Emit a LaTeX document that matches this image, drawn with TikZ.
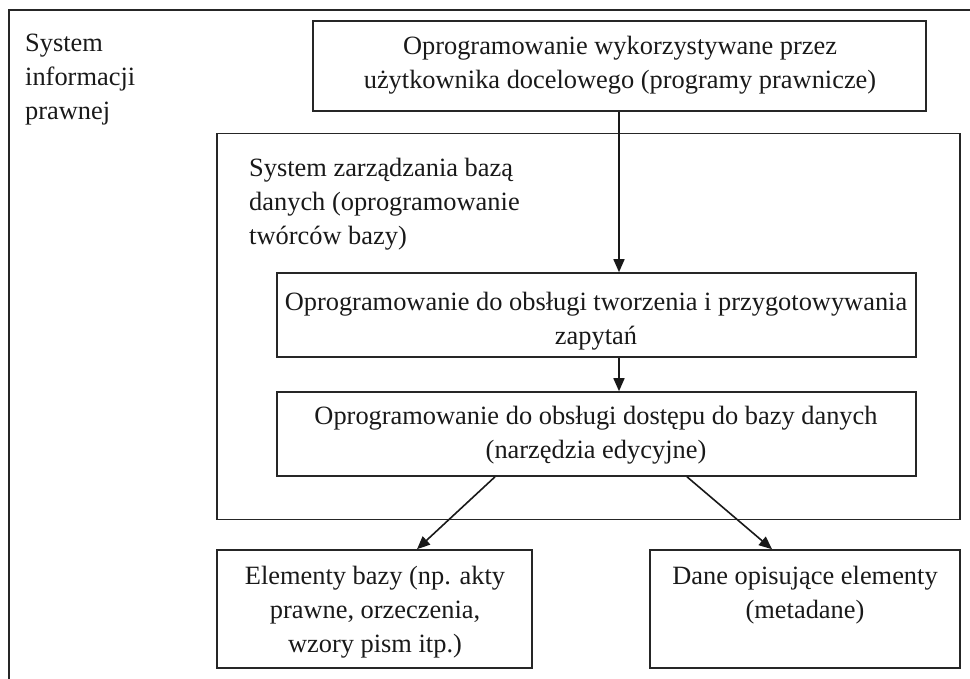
\documentclass[tikz,border=0pt]{standalone}
\usepackage{fontspec}
\setmainfont{Liberation Serif}
\usetikzlibrary{arrows.meta}
\begin{document}
\begin{tikzpicture}[x=1pt,y=-1pt,
  frame/.style={draw=black!85, line width=1.6pt, rectangle, inner sep=0pt},
  txt/.style={font=\fontsize{26.4}{34}\selectfont, inner sep=0pt, anchor=base, text=black!90},
  arr/.style={draw=black!90, line width=1.6pt, -{Triangle[length=13pt,width=11pt]}}]
\useasboundingbox (0,0) rectangle (970,678);
% outer frame (only top and left visible)
\coordinate (otl) at (9,10);
\coordinate (otr) at (972,10);
\coordinate (obl) at (9,680);
\draw[black!85, line width=1.6pt] (otr) -- (otl) -- (obl);
% boxes
\node[frame, minimum width=613pt, minimum height=90pt] (top) at (619.5,66) {};
\node[frame, minimum width=743pt, minimum height=386pt] (dbms) at (588.5,326.5) {};
\node[frame, minimum width=639pt, minimum height=84pt] (query) at (596.5,315) {};
\node[frame, minimum width=639pt, minimum height=84pt] (access) at (596.5,434) {};
\node[frame, minimum width=315pt, minimum height=118pt] (bl) at (374.5,609) {};
\node[frame, minimum width=310pt, minimum height=118pt] (br) at (805,609) {};
% texts (anchor base = baseline of the last line)
\node[txt, anchor=base west, align=left] (sys) at (25,119) {System\\informacji\\prawnej};
\node[txt, align=center] (toptxt) at (620,88) {Oprogramowanie wykorzystywane przez\\u\.zytkownika docelowego (programy prawnicze)};
\node[txt, anchor=base west, align=left] (dbmstxt) at (249,244) {System zarządzania bazą\\danych (oprogramowanie\\twórców bazy)};
\node[txt, align=center] (querytxt) at (596,344) {Oprogramowanie do obsługi tworzenia i przygotowywania\\zapytań};
\node[txt, align=center] (accesstxt) at (596,458) {Oprogramowanie do obsługi dostępu do bazy danych\\(narzędzia edycyjne)};
\node[txt, align=center] (bltxt) at (375,652) {Elementy bazy (np. akty\\prawne, orzeczenia,\\wzory pism itp.)};
\node[txt, align=center] (brtxt) at (805,618) {Dane opisujące elementy\\(metadane)};
% arrows
\coordinate (ax) at (619,0);
\draw[arr] (top.south -| ax) -- (query.north -| ax);
\draw[arr] (query.south -| ax) -- (access.north -| ax);
\draw[arr] ([xshift=-101.5pt]access.south) -- ([xshift=42.5pt]bl.north);
\draw[arr] ([xshift=90.5pt]access.south) -- ([xshift=-33pt]br.north);
\end{tikzpicture}
\end{document}
